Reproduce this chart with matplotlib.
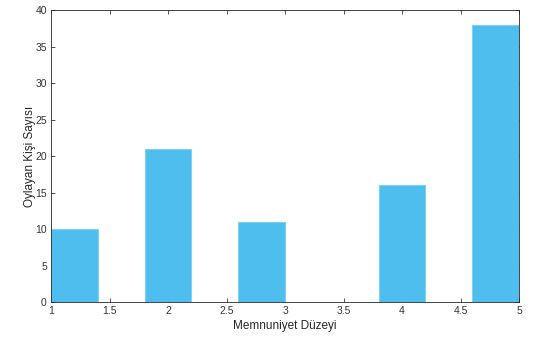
"""
    Histogram memnuniyet düzeyi
"""
import matplotlib
matplotlib.use("Agg")
import matplotlib.pyplot as plt

bin_edges = [1.0, 1.4, 1.8, 2.2, 2.6, 3.0, 3.4, 3.8, 4.2, 4.6, 5.0]
counts = [10, 0, 21, 0, 11, 0, 0, 16, 0, 38]
x_ticks = [1, 1.5, 2, 2.5, 3, 3.5, 4, 4.5, 5]
x_labels = ["1", "1.5", "2", "2.5", "3", "3.5", "4", "4.5", "5"]
y_ticks = [0, 5, 10, 15, 20, 25, 30, 35, 40]


def main():
    plt.rcParams["font.family"] = ["Liberation Sans", "DejaVu Sans"]

    fig = plt.figure(figsize=(5.51, 3.45), dpi=100)
    ax = fig.add_axes([0.0926, 0.1246, 0.8494, 0.8464])

    widths = [bin_edges[i + 1] - bin_edges[i] for i in range(len(counts))]
    ax.bar(bin_edges[:-1], counts, width=widths, align="edge",
           color="#4DBEEE", edgecolor="#7fd0f2", linewidth=0.8, zorder=2)

    ax.set_xlim(1, 5)
    ax.set_ylim(0, 40)
    ax.set_xticks(x_ticks)
    ax.set_xticklabels(x_labels)
    ax.set_yticks(y_ticks)

    ax.tick_params(direction="in", length=3, width=0.6, labelsize=7.5,
                   colors="#333333", top=True, right=True, pad=3)
    for spine in ax.spines.values():
        spine.set_linewidth(0.6)
        spine.set_color("#262626")

    ax.set_xlabel("Memnuniyet Düzeyi", fontsize=8.5, color="#262626", labelpad=3)
    ax.set_ylabel("Oylayan Kişi Sayısı", fontsize=8.5, color="#262626")
    ax.yaxis.set_label_coords(-0.033, 0.5)

    fig.savefig("out.png", dpi=100)


if __name__ == "__main__":
    main()
